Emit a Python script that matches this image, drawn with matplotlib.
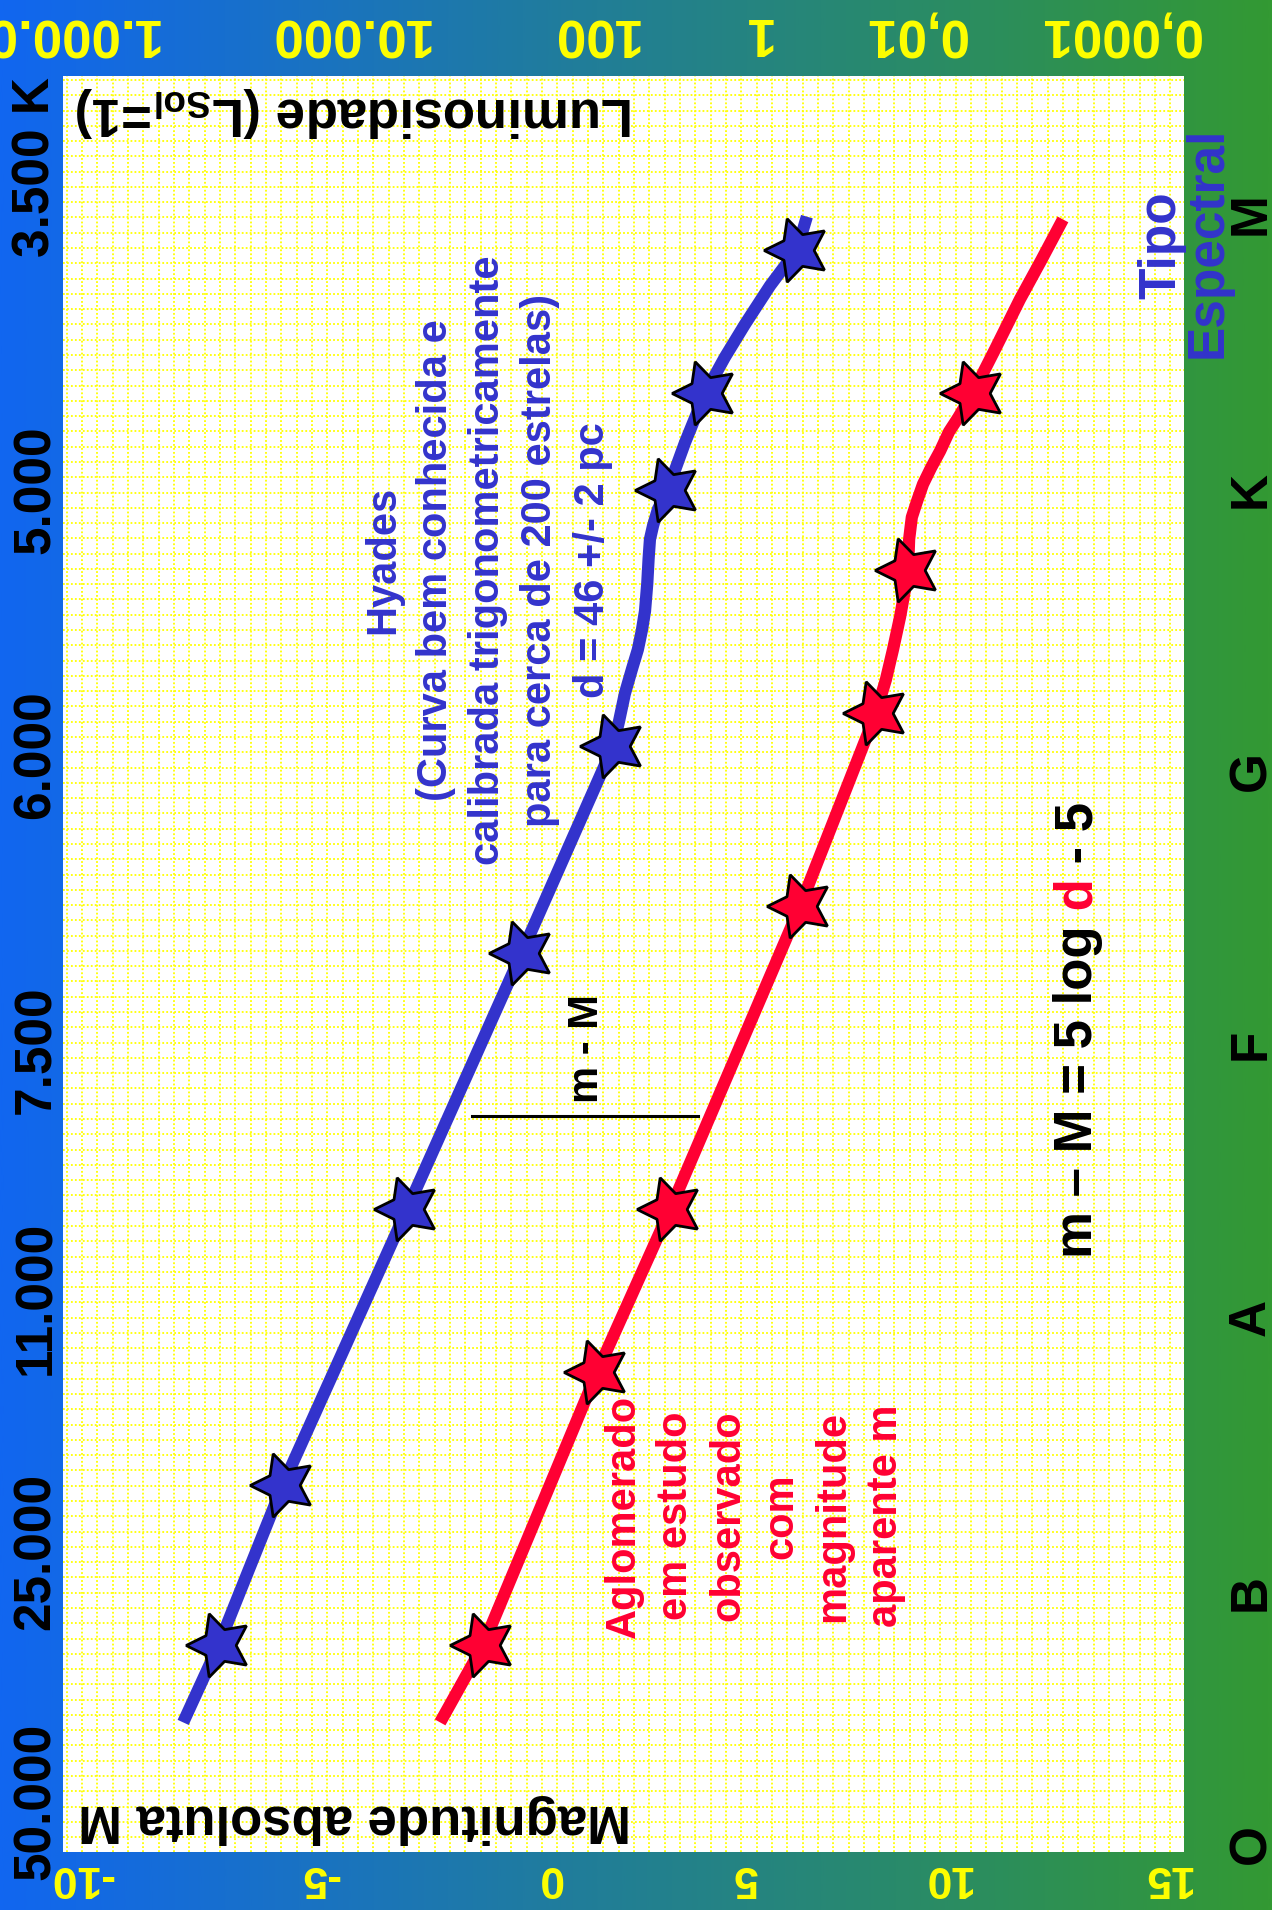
import numpy as np
import matplotlib
matplotlib.use("Agg")
import matplotlib.pyplot as plt
from matplotlib import transforms
from matplotlib.colors import LinearSegmentedColormap
from matplotlib.ticker import MultipleLocator

plt.rcParams["font.family"] = ["Liberation Sans", "DejaVu Sans"]
plt.rcParams["font.weight"] = "bold"
plt.rcParams["mathtext.fontset"] = "custom"
plt.rcParams["mathtext.rm"] = "Liberation Sans:bold"
plt.rcParams["mathtext.it"] = "Liberation Sans:bold"
plt.rcParams["mathtext.bf"] = "Liberation Sans:bold"

W, H, DPI = 1272, 1910, 100

# ---------------------------------------------------------------------------
# Data: absolute magnitude M (horizontal) against spectral sequence index
# (O = 0 ... M = 6, vertical)
# ---------------------------------------------------------------------------
hyades_M = [-7.32, -6.53, -5.10, -2.33, 0.23, 2.27, 2.40, 2.53, 2.69, 2.82,
            2.91, 2.98, 3.03, 3.06, 3.09, 3.16, 3.27, 3.49, 3.87, 4.32,
            4.76, 5.21, 5.77, 6.37, 6.59]
hyades_s = [0.53, 0.81, 1.39, 2.39, 3.32, 4.07, 4.16, 4.26, 4.35, 4.42,
            4.49, 4.56, 4.66, 4.75, 4.82, 4.87, 4.93, 5.00, 5.17, 5.35,
            5.48, 5.60, 5.74, 5.87, 5.99]
hyades_star_M = [-6.53, -5.10, -2.33, 0.23, 2.27, 3.49, 4.32, 6.37]
hyades_star_s = [0.81, 1.39, 2.39, 3.32, 4.07, 5.00, 5.35, 5.87]

cluster_M = [-1.59, -0.63, 1.91, 3.54, 6.44, 8.13, 8.35, 8.51, 8.67, 8.78,
             8.85, 8.87, 8.93, 9.05, 9.18, 9.36, 9.56, 9.76, 9.96, 10.29,
             10.79, 11.34, 11.81, 12.30]
cluster_s = [0.53, 0.81, 1.80, 2.39, 3.49, 4.19, 4.31, 4.42, 4.54, 4.64,
             4.73, 4.82, 4.90, 4.96, 5.02, 5.08, 5.14, 5.21, 5.26, 5.35,
             5.51, 5.69, 5.83, 5.98]
cluster_star_M = [-0.63, 1.91, 3.54, 6.44, 8.13, 8.85, 10.29]
cluster_star_s = [0.81, 1.80, 2.39, 3.49, 4.19, 4.71, 5.35]

# distance modulus bracket (m - M) between the two sequences
modulus_M = [-0.88, 4.16]
modulus_s = 2.73

spectral_types = ["O", "B", "A", "F", "G", "K", "M"]
temperature_labels = ["50.000", "25.000", "11.000", "7.500", "6.000", "5.000", "3.500 K"]
magnitude_labels = ["-10", "-5", "0", "5", "10", "15"]
luminosity_labels = ["1.000.000", "10.000", "100", "1", "0,01", "0,0001"]

# label anchor positions along their axes
spectral_pos = [0.09, 1.0, 2.0, 2.99, 3.98, 5.0, 6.0]
temperature_pos = [0.245, 1.15, 2.07, 2.97, 4.04, 5.0, 6.17]
magnitude_pos = [-9.60, -4.27, 0.86, 5.19, 9.71, 14.60]
luminosity_pos = [-10.51, -3.64, 1.84, 5.45, 8.98, 13.55]

BLUE = "#3333CC"
RED = "#FF0033"
YELLOW = "#FFFF00"

fig = plt.figure(figsize=(W / DPI, H / DPI), dpi=DPI)

# background gradient
bg = fig.add_axes([0, 0, 1, 1], zorder=0)
cmap = LinearSegmentedColormap.from_list("bg", ["#1166F0", "#339933"])
bg.imshow(np.linspace(0, 1, 512)[None, :], aspect="auto", cmap=cmap,
          extent=[0, 1, 0, 1])
bg.set_axis_off()

rect = [63 / W, 1 - 1852 / H, 1121 / W, 1776 / H]

# graph paper
gax = fig.add_axes(rect, zorder=1)
gax.set_facecolor("white")
gax.set_xlim(-0.24, 1121 / 15.33 - 0.24)
gax.set_ylim(1776 / 15.28 - 0.26, -0.26)
gax.xaxis.set_major_locator(MultipleLocator(1))
gax.yaxis.set_major_locator(MultipleLocator(1))
gax.grid(True, color=YELLOW, lw=1.3, linestyle=(0, (1, 1.2)))
gax.tick_params(length=0, labelbottom=False, labelleft=False)
for sp in gax.spines.values():
    sp.set_visible(False)

ax = fig.add_axes(rect, zorder=2)
ax.set_facecolor("none")
ax.set_xlim(-10, 15)
ax.set_ylim(0.06, 6.5)
ax.set_axis_off()

star = (5, 1, 90)
ax.plot(hyades_M, hyades_s, color=BLUE, lw=8.8, solid_capstyle="butt",
        solid_joinstyle="round", zorder=3)
ax.plot(cluster_M, cluster_s, color=RED, lw=8.8, solid_capstyle="butt",
        solid_joinstyle="round", zorder=3)
ax.plot(hyades_star_M, hyades_star_s, ls="none", marker=star, ms=48,
        mfc=BLUE, mec="black", mew=2, zorder=4)
ax.plot(cluster_star_M, cluster_star_s, ls="none", marker=star, ms=48,
        mfc=RED, mec="black", mew=2, zorder=4)

ax.plot(modulus_M, [modulus_s, modulus_s], color="black", lw=2.2, zorder=3)
ax.text(1.93, 2.975, "m - M", rotation=90, rotation_mode="anchor",
        ha="center", va="baseline", fontsize=30, color="black")

# annotations
ax.text(-0.52, 4.745,
        "Hyades\n(Curva bem conhecida e\ncalibrada trigonometricamente\n"
        "para cerca de 200 estrelas)\nd = 46 +/- 2 pc",
        rotation=90, rotation_mode="anchor", ha="center", va="center",
        multialignment="center", linespacing=1.4, fontsize=30, color=BLUE)
ax.text(5.43, 1.278,
        "Aglomerado\nem estudo\nobservado\ncom\nmagnitude\naparente m",
        rotation=90, rotation_mode="anchor", ha="center", va="center",
        multialignment="center", linespacing=1.4, fontsize=30, color=RED)

ax.text(-3.49, 6.42, r"Luminosidade (L$_{\mathrm{Sol}}$=1)", rotation=180,
        rotation_mode="anchor", ha="center", va="baseline", fontsize=38)
ax.text(-3.49, 0.23, "Magnitude absoluta M", rotation=180,
        rotation_mode="anchor", ha="center", va="baseline", fontsize=38)

ax.text(14.80, 5.887, "Tipo", rotation=90, rotation_mode="anchor",
        ha="center", va="baseline", fontsize=37, color=BLUE)
ax.text(15.85, 5.898, "Espectral", rotation=90, rotation_mode="anchor",
        ha="center", va="baseline", fontsize=37, color=BLUE)

# distance-modulus formula with the distance highlighted
renderer = fig.canvas.get_renderer()
parts = [("m \u2013 M = 5 log", "black"), (" d", RED), (" - 5", "black")]
pieces, lengths = [], []
for txt, col in parts:
    t = ax.text(12.95, 3.04, txt, rotation=90, rotation_mode="anchor",
                ha="left", va="baseline", fontsize=38, color=col)
    lengths.append(t.get_window_extent(renderer).height)
    pieces.append(t)
offset = -sum(lengths) / 2
for t, L in zip(pieces, lengths):
    t.set_transform(transforms.offset_copy(ax.transData, fig=fig, x=0,
                                           y=offset, units="dots"))
    offset += L

# outer scales
top = transforms.blended_transform_factory(ax.transData, fig.transFigure)
side = transforms.blended_transform_factory(fig.transFigure, ax.transData)
for lab, pos in zip(luminosity_labels, luminosity_pos):
    ax.text(pos, 1 - 18 / H, lab, transform=top, rotation=180,
            rotation_mode="anchor", ha="center", va="baseline",
            fontsize=38, color=YELLOW)
for lab, pos in zip(magnitude_labels, magnitude_pos):
    ax.text(pos, 1 - 1866 / H, lab, transform=top, rotation=180,
            rotation_mode="anchor", ha="center", va="baseline",
            fontsize=32, color=YELLOW)
for lab, pos in zip(temperature_labels, temperature_pos):
    ax.text(50 / W, pos, lab, transform=side, rotation=90,
            rotation_mode="anchor", ha="center", va="baseline",
            fontsize=37, color="black")
for lab, pos in zip(spectral_types, spectral_pos):
    ax.text(1265 / W, pos, lab, transform=side, rotation=90,
            rotation_mode="anchor", ha="center", va="baseline",
            fontsize=37, color="black")

fig.savefig("out.png", dpi=DPI)
